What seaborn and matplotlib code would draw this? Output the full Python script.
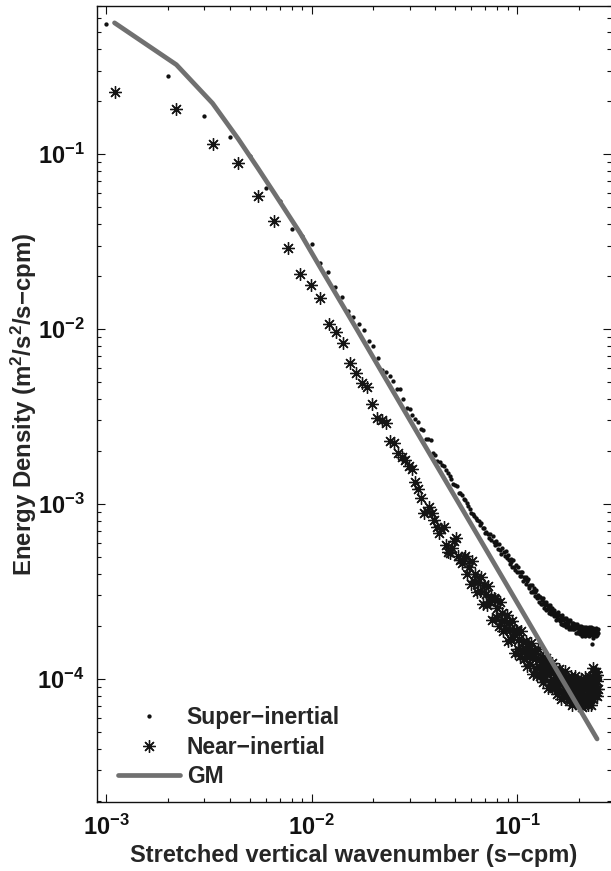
import numpy as np
import pandas as pd
import matplotlib
matplotlib.use("Agg")
import matplotlib.pyplot as plt
import seaborn as sns
from matplotlib.ticker import LogLocator, NullFormatter

# ---------------- data ----------------
dk_super = 1.0e-3   # wavenumber spacing of super-inertial spectrum (s-cpm)
dk_near = 1.1e-3    # wavenumber spacing of near-inertial spectrum and GM (s-cpm)

super_vals = [
    0.553, 0.279, 0.165, 0.125, 0.0975, 0.0640, 0.0538, 0.0372, 0.0340, 0.0306,
    0.0238, 0.0212, 0.0174, 0.0152, 0.0127, 0.0117, 0.0107, 9.86e-3, 8.53e-3, 8.00e-3,
    6.82e-3, 5.83e-3, 5.68e-3, 5.38e-3, 5.05e-3, 4.54e-3, 4.54e-3, 3.98e-3, 3.54e-3, 3.49e-3,
    3.24e-3, 3.06e-3, 2.95e-3, 2.69e-3, 2.65e-3, 2.35e-3, 2.34e-3, 2.32e-3, 1.95e-3, 1.91e-3,
    1.76e-3, 1.74e-3, 1.66e-3, 1.65e-3, 1.56e-3, 1.51e-3, 1.45e-3, 1.38e-3, 1.30e-3, 1.29e-3,
    1.27e-3, 1.16e-3, 1.15e-3, 1.12e-3, 1.07e-3, 1.05e-3, 1.01e-3, 9.75e-4, 9.33e-4, 8.89e-4,
    8.71e-4, 8.51e-4, 8.32e-4, 8.11e-4, 7.95e-4, 7.62e-4, 7.75e-4, 7.25e-4, 7.30e-4,
    6.80e-4, 6.95e-4, 6.76e-4, 6.36e-4, 6.71e-4, 6.26e-4, 6.58e-4, 6.09e-4, 5.80e-4, 6.11e-4,
    5.94e-4, 5.56e-4, 5.91e-4, 5.48e-4, 5.18e-4, 5.57e-4, 5.28e-4, 5.03e-4, 5.37e-4, 4.92e-4,
    5.14e-4, 4.76e-4, 4.55e-4, 4.85e-4, 4.64e-4, 4.38e-4, 4.76e-4, 4.38e-4, 4.22e-4, 4.45e-4,
    4.09e-4, 4.37e-4, 4.10e-4, 3.88e-4, 4.10e-4, 3.85e-4, 4.10e-4, 3.63e-4, 3.84e-4, 3.71e-4,
    3.81e-4, 3.50e-4, 3.63e-4, 3.72e-4, 3.32e-4, 3.41e-4, 3.46e-4, 3.14e-4, 3.43e-4, 3.19e-4,
    3.12e-4, 3.30e-4, 2.98e-4, 3.12e-4, 3.24e-4, 2.90e-4, 2.95e-4, 3.03e-4, 2.74e-4, 2.93e-4,
    2.95e-4, 2.68e-4, 2.82e-4, 2.69e-4, 2.91e-4, 2.56e-4, 2.75e-4, 2.65e-4, 2.47e-4, 2.76e-4,
    2.50e-4, 2.66e-4, 2.54e-4, 2.39e-4, 2.65e-4, 2.46e-4, 2.53e-4, 2.34e-4, 2.55e-4, 2.36e-4,
    2.46e-4, 2.28e-4, 2.49e-4, 2.32e-4, 2.18e-4, 2.39e-4, 2.29e-4, 2.20e-4, 2.41e-4, 2.20e-4,
    2.33e-4, 2.14e-4, 2.20e-4, 2.06e-4, 2.25e-4, 2.32e-4, 2.07e-4, 2.17e-4, 2.03e-4, 2.22e-4,
    2.04e-4, 2.19e-4, 2.08e-4, 2.23e-4, 1.99e-4, 2.12e-4, 2.02e-4, 2.17e-4, 2.06e-4, 1.92e-4,
    2.13e-4, 1.98e-4, 2.16e-4, 1.99e-4, 1.92e-4, 2.08e-4, 2.01e-4, 1.92e-4, 2.10e-4, 1.97e-4,
    1.92e-4, 2.07e-4, 1.95e-4, 1.84e-4, 2.02e-4, 1.95e-4, 2.07e-4, 1.86e-4, 1.97e-4, 1.83e-4,
    2.00e-4, 1.88e-4, 1.91e-4, 1.81e-4, 2.02e-4, 1.84e-4, 1.94e-4, 1.77e-4, 1.98e-4, 1.87e-4,
    1.95e-4, 1.81e-4, 1.89e-4, 1.98e-4, 1.77e-4, 1.92e-4, 1.84e-4, 1.99e-4, 1.79e-4, 1.90e-4,
    1.82e-4, 1.96e-4, 1.86e-4, 1.75e-4, 1.97e-4, 1.88e-4, 1.80e-4, 1.93e-4, 1.84e-4, 1.99e-4,
    1.91e-4, 1.78e-4, 1.58e-4, 1.83e-4, 1.72e-4, 1.95e-4, 1.86e-4, 1.80e-4, 1.91e-4, 1.78e-4,
    1.92e-4, 1.81e-4, 1.96e-4, 1.76e-4, 1.85e-4, 1.90e-4, 1.79e-4, 1.93e-4, 1.82e-4,
]

near_vals = [
    0.226, 0.181, 0.114, 0.0890, 0.0572, 0.0412, 0.0290, 0.0206, 0.0178, 0.0150,
    0.0107, 9.6e-3, 8.3e-3, 6.4e-3, 5.6e-3, 4.9e-3, 4.67e-3, 3.73e-3, 3.10e-3, 3.02e-3,
    2.90e-3, 2.29e-3, 2.23e-3, 1.95e-3, 1.86e-3, 1.78e-3, 1.65e-3, 1.58e-3, 1.34e-3, 1.22e-3,
    1.08e-3, 8.89e-4, 9.12e-4, 9.62e-4, 8.89e-4, 8.11e-4, 7.40e-4, 6.83e-4, 7.19e-4, 7.40e-4,
    5.83e-4, 5.32e-4, 5.25e-4, 5.61e-4, 6.15e-4, 6.40e-4, 5.05e-4, 4.79e-4, 4.60e-4, 4.91e-4,
    5.01e-4, 3.98e-4, 4.37e-4, 3.47e-4, 4.72e-4, 3.64e-4, 3.96e-4, 3.14e-4, 3.58e-4, 3.18e-4,
    3.82e-4, 2.69e-4, 3.45e-4, 3.05e-4, 2.65e-4, 3.39e-4, 2.75e-4, 2.93e-4, 2.17e-4, 2.92e-4,
    2.85e-4, 2.26e-4, 2.54e-4, 2.01e-4, 2.77e-4, 2.15e-4, 2.37e-4, 1.88e-4, 2.15e-4, 1.93e-4,
    2.32e-4, 1.64e-4, 2.12e-4, 1.90e-4, 1.66e-4, 2.14e-4, 1.74e-4, 1.88e-4, 1.40e-4, 1.90e-4,
    1.87e-4, 1.49e-4, 1.69e-4, 1.35e-4, 1.87e-4, 1.47e-4, 1.62e-4, 1.30e-4, 1.51e-4, 1.36e-4,
    1.65e-4, 1.18e-4, 1.54e-4, 1.39e-4, 1.22e-4, 1.60e-4, 1.31e-4, 1.42e-4, 1.07e-4, 1.46e-4,
    1.44e-4, 1.16e-4, 1.32e-4, 1.06e-4, 1.48e-4, 1.17e-4, 1.30e-4, 1.04e-4, 1.21e-4, 1.10e-4,
    1.34e-4, 9.59e-5, 1.25e-4, 1.13e-4, 1.00e-4, 1.31e-4, 1.08e-4, 1.17e-4, 8.83e-5, 1.21e-4,
    1.20e-4, 9.66e-5, 1.10e-4, 8.87e-5, 1.24e-4, 9.82e-5, 1.09e-4, 8.83e-5, 1.03e-4, 9.33e-5,
    1.14e-4, 8.22e-5, 1.08e-4, 9.77e-5, 8.67e-5, 1.14e-4, 9.40e-5, 1.03e-4, 7.73e-5, 1.06e-4,
    1.06e-4, 8.55e-5, 9.77e-5, 7.91e-5, 1.11e-4, 8.79e-5, 9.82e-5, 7.94e-5, 9.29e-5, 8.43e-5,
    1.03e-4, 7.45e-5, 9.79e-5, 8.89e-5, 7.89e-5, 1.04e-4, 8.57e-5, 9.38e-5, 7.08e-5, 9.73e-5,
    9.70e-5, 7.89e-5, 9.03e-5, 7.35e-5, 1.04e-4, 8.20e-5, 9.20e-5, 7.46e-5, 8.77e-5, 7.98e-5,
    9.79e-5, 7.10e-5, 9.33e-5, 8.51e-5, 7.57e-5, 9.95e-5, 8.28e-5, 9.06e-5, 6.87e-5, 9.46e-5,
    9.48e-5, 7.71e-5, 8.87e-5, 7.21e-5, 1.02e-4, 8.13e-5, 9.12e-5, 7.43e-5, 8.73e-5, 7.98e-5,
    9.84e-5, 7.14e-5, 9.46e-5, 8.65e-5, 7.73e-5, 1.02e-4, 8.53e-5, 9.38e-5, 7.14e-5, 9.89e-5,
    9.95e-5, 8.15e-5, 1.16e-4, 7.71e-5, 1.10e-4, 8.77e-5, 9.89e-5, 8.09e-5, 1.05e-4, 8.79e-5,
    1.09e-4, 7.94e-5, 1.06e-4, 9.70e-5, 8.71e-5,
]

gm_index = [1, 2, 3, 4, 5, 6, 8, 10, 15, 20, 30, 50, 80, 120, 170, 223]
gm_vals = [0.562, 0.324, 0.195, 0.122, 0.0826, 0.0596, 0.0354, 0.0226, 0.0101,
           5.66e-3, 2.51e-3, 9.06e-4, 3.54e-4, 1.57e-4, 7.82e-5, 4.54e-5]

series_labels = ["Super\u2212inertial", "Near\u2212inertial", "GM"]
x_label = "Stretched vertical wavenumber (s\u2212cpm)"
y_label = "Energy Density (m$^2$/s$^2$/s\u2212cpm)"

k_super = dk_super * np.arange(1, len(super_vals) + 1)
k_near = dk_near * np.arange(1, len(near_vals) + 1)
k_gm = dk_near * np.array(gm_index)

df_super = pd.DataFrame({"k": k_super, "E": super_vals})
df_near = pd.DataFrame({"k": k_near, "E": near_vals})
df_gm = pd.DataFrame({"k": k_gm, "E": gm_vals})

# ---------------- style ----------------
sns.set_theme(style="ticks")
plt.rcParams.update({
    "font.family": ["Liberation Sans", "DejaVu Sans"],
    "font.weight": "bold",
    "axes.labelweight": "bold",
    "mathtext.fontset": "custom",
    "mathtext.rm": "Liberation Sans:bold",
    "mathtext.it": "Liberation Sans:bold",
    "mathtext.bf": "Liberation Sans:bold",
    "mathtext.default": "regular",
    "axes.linewidth": 1.0,
    "axes.edgecolor": "#111111",
})

W, H = 611, 871
fig = plt.figure(figsize=(W / 100, H / 100), dpi=100)
ax = fig.add_axes([97 / W, 1 - 802 / H, (W - 97) / W, (802 - 6) / H])

asterisk = (8, 2, 0)
sns.lineplot(data=df_super, x="k", y="E", ax=ax, estimator=None, sort=False,
             linestyle="", marker="o", markersize=3.1, markeredgewidth=0,
             markerfacecolor="#111111", color="#111111", label=series_labels[0])
sns.lineplot(data=df_near, x="k", y="E", ax=ax, estimator=None, sort=False,
             linestyle="", marker=asterisk, markersize=9, markeredgewidth=0.95,
             markeredgecolor="#151515", color="#151515", label=series_labels[1])
sns.lineplot(data=df_gm, x="k", y="E", ax=ax, estimator=None, sort=False,
             linewidth=3.4, color="#707070", label=series_labels[2])

ax.set_xscale("log")
ax.set_yscale("log")
ax.set_xlim(9.04e-4, 0.2867)
ax.set_ylim(1.98e-5, 0.7015)

ax.xaxis.set_major_locator(LogLocator(base=10, numticks=10))
ax.yaxis.set_major_locator(LogLocator(base=10, numticks=10))
ax.xaxis.set_minor_locator(LogLocator(base=10, subs=np.arange(2, 10), numticks=20))
ax.yaxis.set_minor_locator(LogLocator(base=10, subs=np.arange(2, 10), numticks=20))
ax.xaxis.set_minor_formatter(NullFormatter())
ax.yaxis.set_minor_formatter(NullFormatter())

ax.tick_params(which="both", direction="in", top=True, right=True,
               colors="#111111", width=0.8)
ax.tick_params(which="major", length=5.5, labelsize=17)
ax.tick_params(which="minor", length=3)
ax.tick_params(axis="y", which="major", pad=9)
ax.tick_params(axis="x", which="major", pad=9)
ax.spines["right"].set_visible(False)
for t in ax.yaxis.get_major_ticks() + ax.yaxis.get_minor_ticks():
    t.tick2line.set_color("#8a8a8a")

ax.set_xlabel(x_label, fontsize=17, fontweight="bold", labelpad=3)
ax.set_ylabel(y_label, fontsize=17.3, fontweight="bold")
ax.yaxis.set_label_coords(-0.112, 0.5)

leg = ax.legend(loc="lower left", bbox_to_anchor=(0.041, 0.017), frameon=False,
                fontsize=16.5, handlelength=2.7, handletextpad=0.3,
                labelspacing=0.3, borderaxespad=0, borderpad=0)

fig.savefig("out.png", dpi=100, facecolor="white")
